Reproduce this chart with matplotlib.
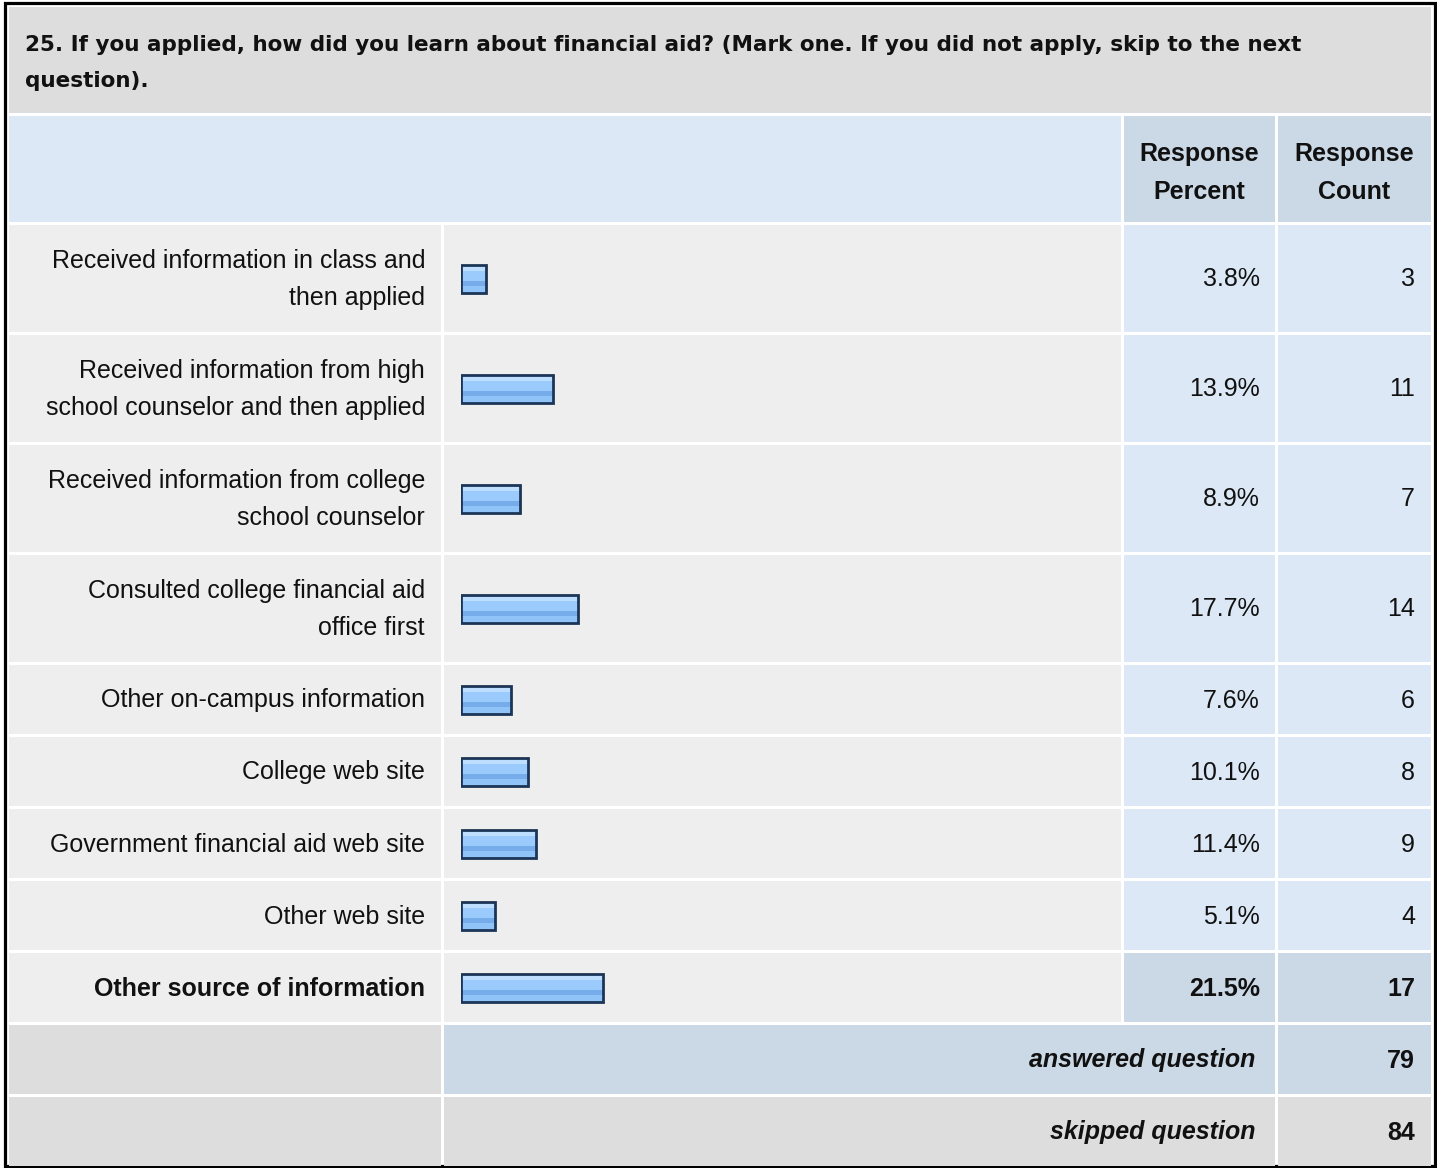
import matplotlib
matplotlib.use('Agg')
import matplotlib.pyplot as plt
from matplotlib.patches import Rectangle

plt.rcParams['font.family'] = ['Liberation Sans', 'DejaVu Sans']

# survey data
title_lines = ['25. If you applied, how did you learn about financial aid? (Mark one. If you did not apply, skip to the next',
               'question).']
labels = [['Received information in class and', 'then applied'],
          ['Received information from high', 'school counselor and then applied'],
          ['Received information from college', 'school counselor'],
          ['Consulted college financial aid', 'office first'],
          ['Other on-campus information'],
          ['College web site'],
          ['Government financial aid web site'],
          ['Other web site'],
          ['Other source of information']]
percents = [3.8, 13.9, 8.9, 17.7, 7.6, 10.1, 11.4, 5.1, 21.5]
counts = [3, 11, 7, 14, 6, 8, 9, 4, 17]
answered = 79
skipped = 84

# page layout in pixels
W, H = 1437, 1168
cols = [(9, 441), (444, 1121), (1124, 1275), (1278, 1431)]
row_h = [107 if len(l) == 2 else 69 for l in labels]
GAP = 3
title_top, title_bot = 7, 113
head_top, head_bot = 116, 222

grey = '#dddddd'
light = '#eeeeee'
blue1 = '#dce8f5'
blue2 = '#cbd8e6'
txt = '#111111'
FS = 18

fig = plt.figure(figsize=(W / 100, H / 100), dpi=100)
ax = fig.add_axes([0, 0, 1, 1])
ax.set_xlim(0, W)
ax.set_ylim(H, 0)
ax.axis('off')


def cell(x0, x1, y0, y1, color):
    ax.add_patch(Rectangle((x0, y0), x1 - x0, y1 - y0, facecolor=color, edgecolor='none'))


# outer frame
ax.add_patch(Rectangle((4.5, 2.5), 1430, 1163, facecolor='white', edgecolor='#000000', lw=2.3))

# title
cell(9, 1431, title_top, title_bot, grey)
for k, line in enumerate(title_lines):
    ax.text(25, 45 + 36 * k, line, fontsize=15.5, fontweight='bold', family='DejaVu Sans',
            color=txt, va='center', ha='left')

# header
cell(cols[0][0], cols[1][1], head_top, head_bot, blue1)
cell(*cols[2], head_top, head_bot, blue2)
cell(*cols[3], head_top, head_bot, blue2)
for k, word in enumerate(['Response', 'Percent']):
    ax.text(sum(cols[2]) / 2, 154 + 38 * k, word, fontsize=FS, fontweight='bold', ha='center', va='center', color=txt)
for k, word in enumerate(['Response', 'Count']):
    ax.text(sum(cols[3]) / 2, 154 + 38 * k, word, fontsize=FS, fontweight='bold', ha='center', va='center', color=txt)

# data rows
centers = []
y = head_bot + GAP
for i, lab in enumerate(labels):
    y0, y1 = y, y + row_h[i]
    c = (y0 + y1) / 2
    centers.append(c)
    last = i == len(labels) - 1
    rcol = blue2 if last else blue1
    w = 'bold' if last else 'normal'
    cell(*cols[0], y0, y1, light)
    cell(*cols[1], y0, y1, light)
    cell(*cols[2], y0, y1, rcol)
    cell(*cols[3], y0, y1, rcol)
    n = len(lab)
    for k, line in enumerate(lab):
        ax.text(425, c + 1 + (k - (n - 1) / 2) * 37, line, fontsize=FS, fontweight=w, ha='right', va='center', color=txt)
    ax.text(1260, c + 1, '{:.1f}%'.format(percents[i]), fontsize=FS, fontweight=w, ha='right', va='center', color=txt)
    ax.text(1415, c + 1, str(counts[i]), fontsize=FS, fontweight=w, ha='right', va='center', color=txt)
    y = y1 + GAP

# summary rows
for val, name, mid in [(answered, 'answered question', blue2), (skipped, 'skipped question', grey)]:
    y0, y1 = y, y + 69
    c = (y0 + y1) / 2
    cell(*cols[0], y0, y1, grey)
    cell(cols[1][0], cols[2][1], y0, y1, mid)
    cell(*cols[3], y0, y1, mid)
    ax.text(1255, c + 1, name, fontsize=FS, fontweight='bold', fontstyle='italic', ha='right', va='center', color=txt)
    ax.text(1415, c + 1, str(val), fontsize=FS, fontweight='bold', ha='right', va='center', color=txt)
    y = y1 + GAP

# bars: x axis in percent, y axis in page pixels
bx0, bx1 = 461, 1121
bx = fig.add_axes([bx0 / W, 0, (bx1 - bx0) / W, 1])
bx.set_xlim(0, 100)
bx.set_ylim(H, 0)
bx.axis('off')
bx.patch.set_alpha(0)

bar_h = 28
bands = [(0.00, 0.22, '#bddeff'), (0.22, 0.60, '#9acbfc'), (0.60, 0.76, '#76acea'), (0.76, 1.00, '#90c3f8')]
for a, b, col in bands:
    yy = [cc - bar_h / 2 + bar_h * (a + b) / 2 for cc in centers]
    bx.barh(yy, percents, height=bar_h * (b - a), left=0, color=col, edgecolor='none')
bx.barh(centers, percents, height=bar_h, left=0, fill=False, edgecolor='#1c3557', linewidth=2.0)

fig.savefig('out.png', dpi=100)
